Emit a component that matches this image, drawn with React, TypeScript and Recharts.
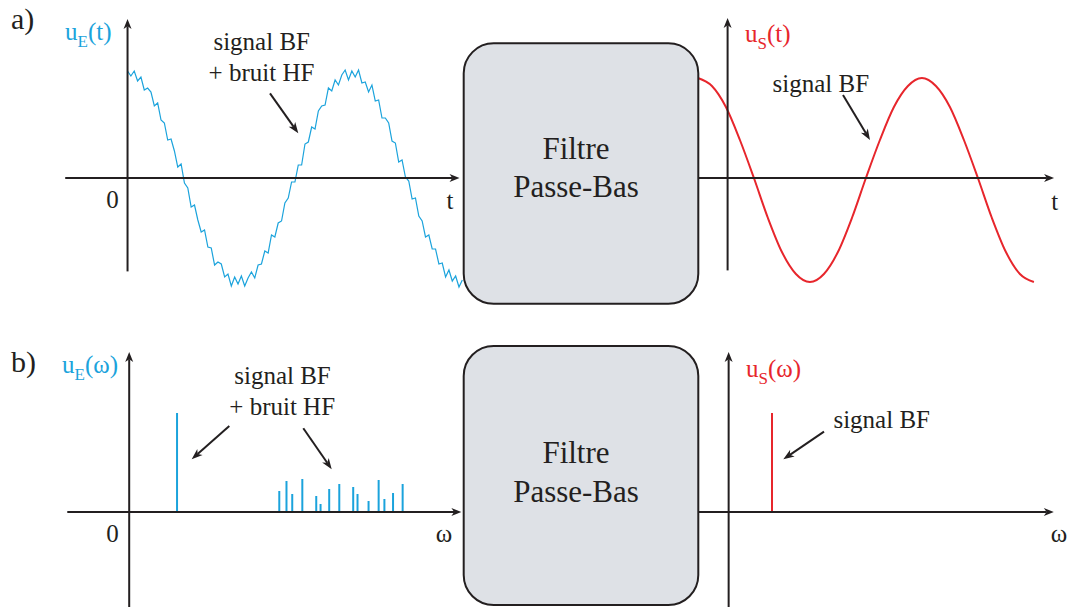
import React from 'react';
import { ComposedChart, Line, Bar, XAxis, YAxis, ReferenceLine } from 'recharts';

const INK = '#231f20';
const CYAN = '#1ba3dc';
const RED = '#e7262c';
const BOX_FILL = '#dee1e6';
const SERIF = "'Liberation Serif', 'Times New Roman', serif";

// ---------- a) time domain: input u_E(t) (t in quarter periods, u in amplitude units)
const inputTime = [
  0, 0.06, 0.12, 0.18, 0.24, 0.3, 0.36, 0.42, 0.48, 0.54,
  0.6, 0.66, 0.72, 0.78, 0.84, 0.9, 0.96, 1.02, 1.08, 1.14,
  1.2, 1.26, 1.32, 1.38, 1.44, 1.5, 1.56, 1.62, 1.68, 1.74,
  1.8, 1.86, 1.92, 1.98, 2.04, 2.1, 2.16, 2.22, 2.28, 2.34,
  2.4, 2.46, 2.52, 2.58, 2.64, 2.7, 2.76, 2.82, 2.88, 2.94,
  3, 3.06, 3.12, 3.18, 3.24, 3.3, 3.36, 3.42, 3.48, 3.54,
  3.6, 3.66, 3.72, 3.78, 3.84, 3.9, 3.96, 4.02, 4.08, 4.14,
  4.2, 4.26, 4.32, 4.38, 4.44, 4.5, 4.56, 4.62, 4.68, 4.74,
  4.8, 4.86, 4.92, 4.98, 5.04, 5.1, 5.16, 5.22, 5.28, 5.34,
  5.4, 5.46, 5.52, 5.58, 5.64, 5.7, 5.76, 5.82, 5.88, 5.94,
  6,
];
const signalBF = [
  1.04, 1.04, 1.02, 1.0, 0.97, 0.93, 0.88, 0.82, 0.76, 0.69,
  0.61, 0.53, 0.44, 0.35, 0.26, 0.16, 0.07, -0.03, -0.13, -0.23,
  -0.32, -0.41, -0.5, -0.58, -0.66, -0.74, -0.8, -0.86, -0.91, -0.95,
  -0.99, -1.02, -1.03, -1.04, -1.04, -1.03, -1.01, -0.98, -0.94, -0.9,
  -0.84, -0.78, -0.71, -0.64, -0.56, -0.47, -0.38, -0.29, -0.19, -0.1,
  0.0, 0.1, 0.19, 0.29, 0.38, 0.47, 0.56, 0.64, 0.71, 0.78,
  0.84, 0.9, 0.94, 0.98, 1.01, 1.03, 1.04, 1.04, 1.03, 1.02,
  0.99, 0.95, 0.91, 0.86, 0.8, 0.74, 0.66, 0.58, 0.5, 0.41,
  0.32, 0.23, 0.13, 0.03, -0.07, -0.16, -0.26, -0.35, -0.44, -0.53,
  -0.61, -0.69, -0.76, -0.82, -0.88, -0.93, -0.97, -1.0, -1.02, -1.04,
  -1.04,
];
const bruitHF = [
  0.03, -0.02, 0.05, -0.03, 0.04, -0.05, 0.02, 0.04, -0.04, 0.06,
  -0.03, 0.02, -0.06, 0.04, 0.01, -0.05, 0.07, -0.02, 0.03, -0.06,
  0.05, -0.01, -0.04, 0.06, -0.03, 0.04, -0.07, 0.02, 0.05, -0.04,
  0.03, -0.06, 0.04, -0.02, 0.06, -0.05, 0.01, 0.04, -0.06, 0.03,
  -0.02, 0.05, -0.04, 0.07, -0.03, 0.02, -0.05, 0.04, -0.01, 0.06,
  -0.04, 0.03, -0.06, 0.05, -0.02, 0.04, -0.07, 0.03, 0.01, -0.05,
  0.06, -0.03, 0.04, -0.05, 0.02, 0.05, -0.06, 0.03, -0.02, 0.06,
  -0.04, 0.01, -0.05, 0.07, -0.03, 0.04, -0.06, 0.02, 0.05, -0.04,
  0.03, -0.07, 0.05, -0.02, 0.04, -0.05, 0.06, -0.03, 0.01, -0.06,
  0.04, -0.02, 0.05, -0.04, 0.03, -0.06, 0.05, -0.03, 0.04, -0.05,
  0.02,
];

// ---------- a) time domain: output u_S(t)
const outputTime = [
  -0.53, -0.28, -0.03, 0.22, 0.47, 0.72, 0.97, 1.22, 1.47, 1.72,
  1.97, 2.22, 2.47, 2.72, 2.97, 3.22, 3.47, 3.72, 3.97, 4.22,
  4.47, 4.72, 4.97, 5.22, 5.47,
];
const outputValue = [
  1.0, 0.92, 0.71, 0.38, 0.0, -0.4, -0.74, -0.96, -1.04, -0.96,
  -0.74, -0.4, 0.0, 0.38, 0.71, 0.92, 1.0, 0.92, 0.71, 0.38,
  0.0, -0.4, -0.74, -0.96, -1.04,
];

// ---------- b) spectra (omega relative to the signal frequency)
const freq = [1.0, 3.13, 3.28, 3.4, 3.61, 3.9, 3.99, 4.17, 4.38, 4.67, 4.76, 4.99, 5.2, 5.32, 5.5, 5.7];
const inputAmp = [0.99, 0.21, 0.31, 0.18, 0.33, 0.16, 0.08, 0.23, 0.28, 0.25, 0.18, 0.11, 0.32, 0.13, 0.19, 0.28];
const outputAmp = [0.99, 0, 0, 0, 0, 0, 0, 0, 0, 0, 0, 0, 0, 0, 0, 0];

const inputSeries = inputTime.map((t, i) => ({ t, v: signalBF[i] + (bruitHF[i] ?? 0) }));
const outputSeries = outputTime.map((t, i) => ({ t, v: outputValue[i] }));
const inputSpectrum = freq.map((w, i) => ({ w, a: inputAmp[i] }));
const outputSpectrum = freq.map((w, i) => ({ w, a: outputAmp[i] }));

function headPath(x1: number, y1: number, x2: number, y2: number, len: number, half: number) {
  const ang = Math.atan2(y2 - y1, x2 - x1);
  const c = Math.cos(ang);
  const s = Math.sin(ang);
  const bx = x2 - len * c;
  const by = y2 - len * s;
  const nx = x2 - len * 0.72 * c;
  const ny = y2 - len * 0.72 * s;
  return {
    d: `M${x2},${y2} L${bx - half * s},${by + half * c} L${nx},${ny} L${bx + half * s},${by - half * c} Z`,
    nx,
    ny,
  };
}

function Arrow({ x1, y1, x2, y2, len = 11, half = 4, width = 2 }: any) {
  const h = headPath(x1, y1, x2, y2, len, half);
  return (
    <g>
      <line x1={x1} y1={y1} x2={h.nx} y2={h.ny} stroke={INK} strokeWidth={width} />
      <path d={h.d} fill={INK} stroke="none" />
    </g>
  );
}

const AxisShape = (props: any) => {
  const { x1, y1, x2, y2 } = props;
  return <Arrow x1={x1} y1={y1} x2={x2} y2={y2} len={10} half={4} width={2} />;
};

type PanelProps = {
  origin: [number, number];
  scale: [number, number];
  xDomain: [number, number];
  yDomain: [number, number];
  xSpan: [number, number];
  ySpan: [number, number];
  data: any[];
  xKey: string;
  children?: React.ReactNode;
};

function Panel({ origin, scale, xDomain, yDomain, xSpan, ySpan, data, xKey, children }: PanelProps) {
  const left = origin[0] + xDomain[0] * scale[0];
  const width = (xDomain[1] - xDomain[0]) * scale[0];
  const top = origin[1] - yDomain[1] * scale[1];
  const height = (yDomain[1] - yDomain[0]) * scale[1];
  return (
    <div style={{ position: 'absolute', left, top, width, height }}>
      <ComposedChart width={width} height={height} data={data} margin={{ top: 0, right: 0, bottom: 0, left: 0 }}>
        <XAxis type="number" dataKey={xKey} domain={xDomain} hide allowDataOverflow />
        <YAxis type="number" domain={yDomain} hide allowDataOverflow />
        {children}
        <ReferenceLine
          segment={[{ x: xSpan[0], y: 0 }, { x: xSpan[1], y: 0 }]}
          ifOverflow="visible"
          shape={AxisShape}
        />
        <ReferenceLine
          segment={[{ x: 0, y: ySpan[0] }, { x: 0, y: ySpan[1] }]}
          ifOverflow="visible"
          shape={AxisShape}
        />
      </ComposedChart>
    </div>
  );
}

function Label({ x, y, children, size = 25, anchor = 'middle', color = INK }: any) {
  return (
    <text x={x} y={y} fill={color} textAnchor={anchor} style={{ fontFamily: SERIF, fontSize: size }}>
      {children}
    </text>
  );
}

function VarLabel({ x, y, sub, arg, color }: any) {
  return (
    <text x={x} y={y} fill={color} style={{ fontFamily: SERIF, fontSize: 25 }}>
      u
      <tspan dy={7} style={{ fontSize: 17 }}>{sub}</tspan>
      <tspan dy={-7}>({arg})</tspan>
    </text>
  );
}

export default function App() {
  return (
    <div
      style={{
        position: 'absolute',
        left: 0,
        top: 0,
        width: 1069,
        height: 607,
        overflow: 'hidden',
        background: '#ffffff',
        fontFamily: SERIF,
      }}
    >
      {/* a) input time signal */}
      <Panel
        origin={[128, 178.3]}
        scale={[55.8, 100]}
        xDomain={[-1.3, 6.1]}
        yDomain={[-1.3, 1.7]}
        xSpan={[-1.117, 5.95]}
        ySpan={[-0.934, 1.59]}
        data={inputSeries}
        xKey="t"
      >
        <Line dataKey="v" type="linear" stroke={CYAN} strokeWidth={1.2} dot={false} activeDot={false} isAnimationActive={false} />
      </Panel>
      {/* a) output time signal */}
      <Panel
        origin={[727.7, 178.3]}
        scale={[56, 100]}
        xDomain={[-0.6, 6.0]}
        yDomain={[-1.3, 1.7]}
        xSpan={[-0.53, 5.83]}
        ySpan={[-0.924, 1.6]}
        data={outputSeries}
        xKey="t"
      >
        <Line dataKey="v" type="monotone" stroke={RED} strokeWidth={2} dot={false} activeDot={false} isAnimationActive={false} />
      </Panel>
      {/* b) input spectrum */}
      <Panel
        origin={[128.7, 512.3]}
        scale={[48, 100]}
        xDomain={[-1.4, 7.1]}
        yDomain={[-1.0, 1.7]}
        xSpan={[-1.29, 6.92]}
        ySpan={[-0.97, 1.6]}
        data={inputSpectrum}
        xKey="w"
      >
        <Bar dataKey="a" fill={CYAN} barSize={2} isAnimationActive={false} />
      </Panel>
      {/* b) output spectrum */}
      <Panel
        origin={[729, 512]}
        scale={[43.3, 100]}
        xDomain={[-0.8, 7.7]}
        yDomain={[-1.0, 1.7]}
        xSpan={[-0.71, 7.51]}
        ySpan={[-0.97, 1.6]}
        data={outputSpectrum}
        xKey="w"
      >
        <Bar dataKey="a" fill={RED} barSize={2} isAnimationActive={false} />
      </Panel>

      <svg
        width={1069}
        height={607}
        style={{ position: 'absolute', left: 0, top: 0, pointerEvents: 'none' }}
      >
        {/* filter boxes */}
        <rect x={463.7} y={43.3} width={234.6} height={260.5} rx={30} ry={30} fill={BOX_FILL} stroke={INK} strokeWidth={2} />
        <rect x={463.7} y={346} width={234.6} height={259} rx={30} ry={30} fill={BOX_FILL} stroke={INK} strokeWidth={2} />
        <Label x={576} y={159.3} size={31}>Filtre</Label>
        <Label x={576} y={196.7} size={31}>Passe-Bas</Label>
        <Label x={576} y={463.3} size={31}>Filtre</Label>
        <Label x={576} y={501.7} size={31}>Passe-Bas</Label>

        {/* panel letters */}
        <Label x={11} y={29} size={30} anchor="start">a)</Label>
        <Label x={11} y={372} size={30} anchor="start">b)</Label>

        {/* axis variable labels */}
        <VarLabel x={65} y={39.5} sub="E" arg="t" color={CYAN} />
        <VarLabel x={745} y={42} sub="S" arg="t" color={RED} />
        <VarLabel x={62} y={373.3} sub="E" arg="ω" color={CYAN} />
        <VarLabel x={746} y={377} sub="S" arg="ω" color={RED} />

        {/* tick labels */}
        <Label x={112.5} y={208.3}>0</Label>
        <Label x={450} y={209.3}>t</Label>
        <Label x={1054.7} y={210}>t</Label>
        <Label x={112.4} y={541.7}>0</Label>
        <Label x={444} y={541.7}>ω</Label>
        <Label x={1059} y={541.7}>ω</Label>

        {/* annotations */}
        <Label x={261.7} y={50}>signal BF</Label>
        <Label x={261.5} y={81}>+ bruit HF</Label>
        <Arrow x1={270} y1={93.3} x2={298.3} y2={133.3} />
        <Label x={820.8} y={91.7}>signal BF</Label>
        <Arrow x1={843} y1={95} x2={870} y2={140} />
        <Label x={282.5} y={384}>signal BF</Label>
        <Label x={282.2} y={415}>+ bruit HF</Label>
        <Arrow x1={229.3} y1={426} x2={191.7} y2={459.3} />
        <Arrow x1={303.3} y1={428.3} x2={331.7} y2={469.3} />
        <Label x={881.7} y={428.3}>signal BF</Label>
        <Arrow x1={824} y1={431.7} x2={783.3} y2={459.3} />
      </svg>
    </div>
  );
}
